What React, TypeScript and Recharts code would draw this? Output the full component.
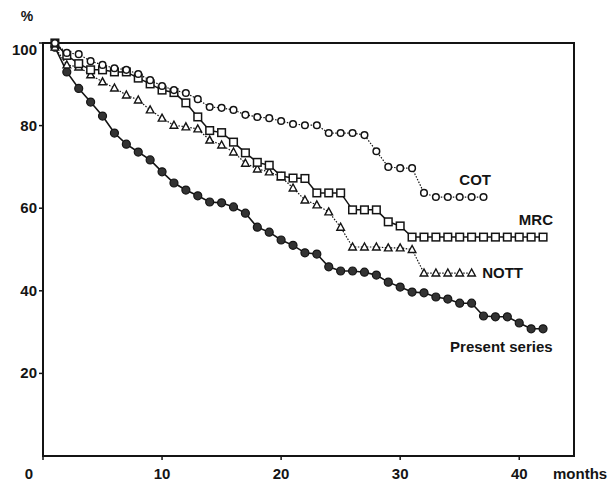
import { LineChart, Line, XAxis, YAxis, ReferenceArea, ReferenceDot } from 'recharts'

// survival (%) by month since treatment
const MONTHS = [
  1, 2, 3, 4, 5, 6, 7, 8, 9, 10, 11, 12, 13, 14, 15, 16, 17, 18, 19, 20, 21,
  22, 23, 24, 25, 26, 27, 28, 29, 30, 31, 32, 33, 34, 35, 36, 37, 38, 39, 40, 41, 42,
]

const COT = [
  100, 97.6, 97.3, 95.6, 94.7, 93.9, 93.5, 92.5, 91, 89.6, 88.6, 87.9, 86.4, 84.5,
  84.3, 83.8, 82.6, 82.1, 81.8, 81.1, 80.4, 80.1, 80.1, 78.2, 78.2, 78.2, 77.7,
  73.8, 70, 69.7, 69.7, 63.7, 62.7, 62.7, 62.7, 62.7, 62.7,
]

const MRC = [
  100, 97, 95, 93.5, 93.5, 93, 93, 91.5, 90.1, 88.6, 88, 85.5, 82.1, 78.8, 78.3,
  76, 73.4, 71.1, 70.4, 67.8, 67.3, 67.2, 63.7, 63.7, 63.7, 59.6, 59.6, 59.6,
  56.7, 55.7, 53, 53, 53, 53, 53, 53, 53, 53, 53, 53, 53, 53,
]

const NOTT = [
  99, 94.7, 94.2, 92.3, 90.6, 89.1, 87.4, 86.2, 83.8, 81.8, 80.1, 79.7, 79.2,
  76.5, 75.3, 73.6, 70.9, 69.5, 68.8, 67.6, 64.9, 62, 60.8, 59.1, 55.4, 50.6,
  50.6, 50.6, 50.4, 50.4, 50, 44.3, 44.3, 44.3, 44.3, 44.3,
]

const PRESENT = [
  99, 93, 89, 85.7, 82.3, 78.2, 75.5, 73.6, 71.7, 68.8, 66.1, 64.4, 63, 61.5,
  61.3, 60.3, 58.8, 55.4, 54.2, 52.3, 51, 49.2, 48.9, 45.8, 44.8, 44.8, 44.5,
  43.8, 42.1, 40.9, 39.7, 39.5, 38.5, 38, 37, 37, 33.9, 33.7, 33.7, 32.2, 30.8, 30.8,
]

const X_TICKS = [0, 10, 20, 30, 40]
const Y_TICKS = [20, 40, 60, 80, 100]
const X_MAX = 44.6

const INK = '#141414'
const FONT = '"Liberation Sans", Arial, Helvetica, sans-serif'

// where each curve's name sits (data units)
const SERIES_LABELS = [
  { text: 'COT', month: 36.3, pct: 66.8 },
  { text: 'MRC', month: 41.4, pct: 57.1 },
  { text: 'NOTT', month: 38.6, pct: 44.3 },
  { text: 'Present series', month: 38.5, pct: 26.4 },
]

const toPoints = (values: number[]) =>
  values.map((v, i) => ({ month: MONTHS[i], pct: v }))

const textStyle = { fontFamily: FONT, fontSize: 15, fontWeight: 700, fill: INK }

const RingDot = (props: any) => {
  const { cx, cy, index } = props
  if (cx == null || cy == null) return null
  return <circle key={`c-${index}`} cx={cx} cy={cy} r={3.3} fill="#fff" stroke={INK} strokeWidth={1.5} />
}

const SquareDot = (props: any) => {
  const { cx, cy, index } = props
  if (cx == null || cy == null) return null
  return (
    <rect key={`s-${index}`} x={cx - 3.8} y={cy - 3.8} width={7.6} height={7.6}
      fill="#fff" stroke={INK} strokeWidth={1.5} />
  )
}

const TriangleDot = (props: any) => {
  const { cx, cy, index } = props
  if (cx == null || cy == null) return null
  const pts = `${cx},${cy - 4} ${cx - 3.8},${cy + 3} ${cx + 3.8},${cy + 3}`
  return <polygon key={`t-${index}`} points={pts} fill="#fff" stroke={INK} strokeWidth={1.4} />
}

const SolidDot = (props: any) => {
  const { cx, cy, index } = props
  if (cx == null || cy == null) return null
  return <circle key={`p-${index}`} cx={cx} cy={cy} r={4} fill="#333" stroke={INK} strokeWidth={1.2} />
}

const XTick = ({ x, y, payload }: any) => (
  <text x={x + (payload.value === 0 ? -14 : 0)} y={y + 17} textAnchor="middle" {...textStyle}>
    {payload.value}
  </text>
)

const YTick = ({ x, y, payload }: any) => (
  <text x={x} y={y + 5 + (payload.value === 100 ? 7 : 0)} textAnchor="end" {...textStyle}>
    {payload.value}
  </text>
)

const PercentLabel = ({ viewBox }: any) => (
  <text x={viewBox.x + 27} y={viewBox.y - 22} textAnchor="middle" {...textStyle} fontSize={14}>
    %
  </text>
)

const MonthsLabel = ({ viewBox }: any) => (
  <text x={viewBox.x + viewBox.width - 21} y={viewBox.y + 23} textAnchor="start" {...textStyle}>
    months
  </text>
)

const NameLabel = (text: string) => ({ viewBox }: any) => (
  <text x={viewBox.x} y={viewBox.y + 5} textAnchor="middle" {...textStyle}>
    {text}
  </text>
)

export default function App() {
  return (
    <div style={{ position: 'absolute', left: 0, top: 0, width: 608, height: 487, background: '#fff' }}>
      <LineChart width={608} height={487} margin={{ top: 43, right: 34, bottom: 0, left: 0 }}>
        <XAxis
          type="number"
          dataKey="month"
          domain={[0, X_MAX]}
          ticks={X_TICKS}
          height={31}
          axisLine={false}
          tickLine={{ stroke: INK, strokeWidth: 1.5 }}
          tickSize={4}
          tick={(p: any) => <XTick {...p} />}
          label={<MonthsLabel />}
          allowDataOverflow
        />
        <YAxis
          type="number"
          dataKey="pct"
          domain={[0, 100]}
          ticks={Y_TICKS}
          width={43}
          axisLine={false}
          tickLine={{ stroke: INK, strokeWidth: 1.5 }}
          tickSize={4}
          tick={(p: any) => <YTick {...p} />}
          label={<PercentLabel />}
        />
        <ReferenceArea x1={0} x2={X_MAX} y1={0} y2={100} fill="none" stroke={INK} strokeWidth={2} fillOpacity={0} ifOverflow="visible" />

        <Line data={toPoints(PRESENT)} dataKey="pct" type="linear" stroke={INK} strokeWidth={1.6}
          dot={SolidDot} activeDot={false} isAnimationActive={false} />
        <Line data={toPoints(NOTT)} dataKey="pct" type="linear" stroke={INK} strokeWidth={1.2}
          strokeDasharray="1.5 1.5" dot={TriangleDot} activeDot={false} isAnimationActive={false} />
        <Line data={toPoints(MRC)} dataKey="pct" type="linear" stroke={INK} strokeWidth={1.5}
          dot={SquareDot} activeDot={false} isAnimationActive={false} />
        <Line data={toPoints(COT)} dataKey="pct" type="linear" stroke={INK} strokeWidth={1.2}
          strokeDasharray="1.5 1.5" dot={RingDot} activeDot={false} isAnimationActive={false} />

        {SERIES_LABELS.map((l) => (
          <ReferenceDot key={l.text} x={l.month} y={l.pct} r={0} fill="none" stroke="none"
            label={NameLabel(l.text)} />
        ))}
      </LineChart>
    </div>
  )
}
